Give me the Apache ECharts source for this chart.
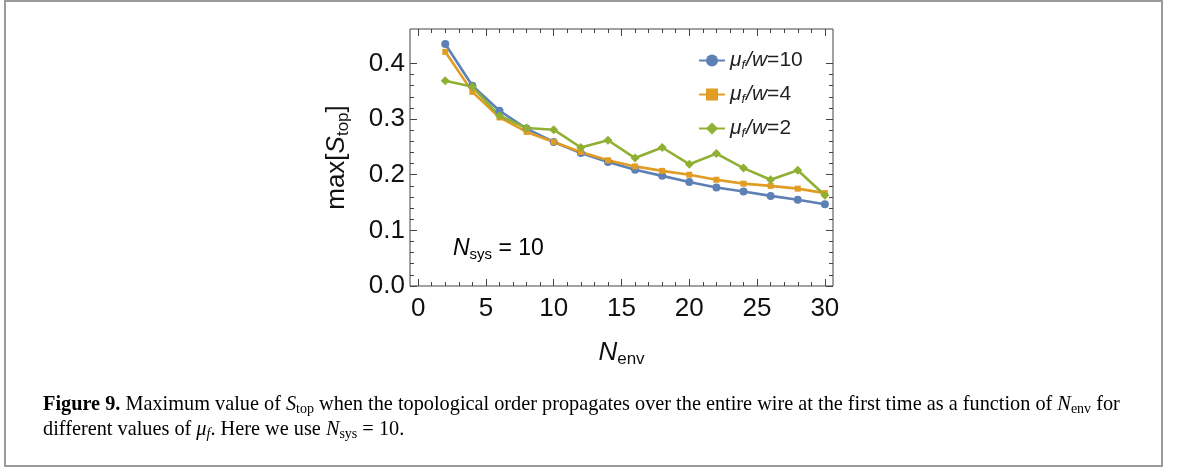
<!DOCTYPE html>
<html>
<head>
<meta charset="utf-8">
<script src="https://cdn.jsdelivr.net/npm/echarts@6/dist/echarts.min.js"></script>
<style>
  html, body { margin: 0; padding: 0; background: #fff; }
  #main { width: 1179px; height: 468px; }
</style>
</head>
<body>
<div id="main"></div>
<script>
// N_env values (x) and max[S_top] for the three mu_f/w values
var nEnv = [2, 4, 6, 8, 10, 12, 14, 16, 18, 20, 22, 24, 26, 28, 30];
var sTopMu10 = [0.435, 0.360, 0.315, 0.283, 0.259, 0.239, 0.223, 0.209, 0.198, 0.187, 0.177, 0.170, 0.162, 0.155, 0.147];
var sTopMu4 = [0.421, 0.349, 0.303, 0.277, 0.259, 0.241, 0.226, 0.215, 0.207, 0.200, 0.191, 0.184, 0.180, 0.175, 0.167];
var sTopMu2 = [0.369, 0.358, 0.306, 0.284, 0.281, 0.249, 0.262, 0.230, 0.249, 0.219, 0.238, 0.212, 0.191, 0.208, 0.163];
var seriesNames = ['μf/w=10', 'μf/w=4', 'μf/w=2'];
var xTicks = [0, 5, 10, 15, 20, 25, 30];
var yTicks = [0, 0.1, 0.2, 0.3, 0.4];

var SANS = 'Liberation Sans';
var SERIF = 'Liberation Serif';

function pairs(ys) {
  var out = [];
  for (var i = 0; i < nEnv.length; i++) out.push([nEnv[i], ys[i]]);
  return out;
}

// frame box in pixels
var frame = { left: 410, top: 29, right: 833, bottom: 286 };
var xMin = -0.6, xMax = 30.6, yMin = 0, yMax = 0.462;
var pxX = (frame.right - frame.left) / (xMax - xMin);
var pxY = (frame.bottom - frame.top) / (yMax - yMin);
// tick grids, so that ticks start at 0 and not at the padded min
var xTickLeft = frame.left + (xTicks[0] - xMin) * pxX;
var xTickWidth = (xTicks[xTicks.length - 1] - xTicks[0]) * pxX;
var yTickTop = frame.bottom - (yTicks[yTicks.length - 1] - yMin) * pxY;

var tickLine = { color: '#444', width: 1 };
var subRich = {
  i: { fontFamily: SANS, fontStyle: 'italic', fontSize: 26, color: '#111' },
  n: { fontFamily: SANS, fontSize: 26, color: '#111' },
  s: { fontFamily: SANS, fontSize: 17, color: '#111', padding: [14, 0, 0, 0] }
};

var chart = echarts.init(document.getElementById('main'), null, { renderer: 'canvas' });

var option = {
  backgroundColor: '#fff',
  animation: false,
  grid: [
    { left: frame.left, top: frame.top, width: frame.right - frame.left, height: frame.bottom - frame.top,
      show: true, borderColor: '#444', borderWidth: 1, backgroundColor: 'transparent' },
    { left: xTickLeft, top: frame.top, width: xTickWidth, height: frame.bottom - frame.top },
    { left: frame.left, top: yTickTop, width: frame.right - frame.left, height: frame.bottom - yTickTop }
  ],
  xAxis: [
    { // data axis, only its name is shown
      type: 'value', gridIndex: 0, min: xMin, max: xMax,
      axisLine: { show: false }, axisTick: { show: false }, axisLabel: { show: false }, splitLine: { show: false },
      name: '{i|N}{s|env}', nameLocation: 'middle', nameGap: 51,
      nameTextStyle: { rich: subRich }
    },
    { // bottom ticks and labels
      type: 'value', gridIndex: 1, position: 'bottom', min: xTicks[0], max: xTicks[xTicks.length - 1], interval: 5,
      axisLine: { show: false },
      axisTick: { show: true, inside: true, length: 7, lineStyle: tickLine },
      minorTick: { show: true, splitNumber: 5, length: 4, lineStyle: tickLine },
      axisLabel: { fontFamily: SANS, fontSize: 26, color: '#111', margin: 10 },
      splitLine: { show: false }
    },
    { // top ticks
      type: 'value', gridIndex: 1, position: 'top', min: xTicks[0], max: xTicks[xTicks.length - 1], interval: 5,
      axisLine: { show: false },
      axisTick: { show: true, inside: true, length: 7, lineStyle: tickLine },
      minorTick: { show: true, splitNumber: 5, length: 4, lineStyle: tickLine },
      axisLabel: { show: false }, splitLine: { show: false }
    },
    { type: 'value', gridIndex: 2, show: false, min: 0, max: 1 }
  ],
  yAxis: [
    {
      type: 'value', gridIndex: 0, min: yMin, max: yMax,
      axisLine: { show: false }, axisTick: { show: false }, axisLabel: { show: false }, splitLine: { show: false },
      name: '{n|max[}{i|S}{s|top}{n|]}', nameLocation: 'middle', nameGap: 58, nameRotate: 90,
      nameTextStyle: { rich: subRich }
    },
    { type: 'value', gridIndex: 1, show: false, min: 0, max: 1 },
    { // left ticks and labels
      type: 'value', gridIndex: 2, position: 'left', min: yTicks[0], max: yTicks[yTicks.length - 1], interval: 0.1,
      axisLine: { show: false },
      axisTick: { show: true, inside: true, length: 7, lineStyle: tickLine },
      minorTick: { show: true, splitNumber: 5, length: 4, lineStyle: tickLine },
      axisLabel: { fontFamily: SANS, fontSize: 26, color: '#111', margin: 5,
        formatter: function (v) { return v.toFixed(1); } },
      splitLine: { show: false }
    },
    { // right ticks
      type: 'value', gridIndex: 2, position: 'right', min: yTicks[0], max: yTicks[yTicks.length - 1], interval: 0.1,
      axisLine: { show: false },
      axisTick: { show: true, inside: true, length: 7, lineStyle: tickLine },
      minorTick: { show: true, splitNumber: 5, length: 4, lineStyle: tickLine },
      axisLabel: { show: false }, splitLine: { show: false }
    }
  ],
  legend: {
    orient: 'vertical', left: 693, top: 45, itemGap: 12, itemWidth: 26, itemHeight: 15,
    data: seriesNames,
    formatter: function (name) {
      return '{i|μ}{s|f}{i|/w}{n|=' + name.split('=')[1] + '}';
    },
    textStyle: {
      rich: {
        i: { fontFamily: SANS, fontStyle: 'italic', fontSize: 21, color: '#222' },
        n: { fontFamily: SANS, fontSize: 21, color: '#222' },
        s: { fontFamily: SANS, fontStyle: 'italic', fontSize: 13, color: '#222', padding: [10, 1, 0, 0] }
      }
    }
  },
  series: [
    { name: seriesNames[0], type: 'line', xAxisIndex: 0, yAxisIndex: 0, data: pairs(sTopMu10),
      symbol: 'circle', symbolSize: 8, color: '#5E81B5', lineStyle: { width: 2.6 } },
    { name: seriesNames[1], type: 'line', xAxisIndex: 0, yAxisIndex: 0, data: pairs(sTopMu4),
      symbol: 'rect', symbolSize: 6, color: '#E19C24', lineStyle: { width: 2.6 } },
    { name: seriesNames[2], type: 'line', xAxisIndex: 0, yAxisIndex: 0, data: pairs(sTopMu2),
      symbol: 'diamond', symbolSize: 9, color: '#8FB032', lineStyle: { width: 2.6 } }
  ],
  graphic: [
    { type: 'rect', shape: { x: 5, y: 1, width: 1157, height: 465 }, silent: true,
      style: { fill: 'none', stroke: '#9a9a9a', lineWidth: 2 } },
    { type: 'text', left: 453, top: 237, silent: true,
      style: { text: '{i|N}{s|sys}{n| = 10}',
        rich: {
          i: { fontFamily: SANS, fontStyle: 'italic', fontSize: 23, color: '#111' },
          n: { fontFamily: SANS, fontSize: 23, color: '#111' },
          s: { fontFamily: SANS, fontSize: 15, color: '#111', padding: [12, 0, 0, 0] }
        } } },
    { type: 'text', left: 43, top: 395, silent: true,
      style: {
        text: '{b|Figure 9.}{t| Maximum value of }{i|S}{s|top}{t| when the topological order propagates over the entire wire at the first time as a function of }{i|N}{s|env}{t| for}',
        rich: {
          b: { fontFamily: SERIF, fontWeight: 'bold', fontSize: 20.3, color: '#111' },
          t: { fontFamily: SERIF, fontSize: 20.3, color: '#111' },
          i: { fontFamily: SERIF, fontStyle: 'italic', fontSize: 20.3, color: '#111' },
          s: { fontFamily: SERIF, fontSize: 14, color: '#111', padding: [9, 0, 0, 0] }
        } } },
    { type: 'text', left: 43, top: 420, silent: true,
      style: {
        text: '{t|different values of }{i|μ}{si|f}{t|. Here we use }{i|N}{s|sys}{t| = 10.}',
        rich: {
          t: { fontFamily: SERIF, fontSize: 20.3, color: '#111' },
          i: { fontFamily: SERIF, fontStyle: 'italic', fontSize: 20.3, color: '#111' },
          s: { fontFamily: SERIF, fontSize: 14, color: '#111', padding: [9, 0, 0, 0] },
          si: { fontFamily: SERIF, fontStyle: 'italic', fontSize: 14, color: '#111', padding: [9, 0, 0, 0] }
        } } }
  ]
};

chart.setOption(option);
</script>
</body>
</html>
